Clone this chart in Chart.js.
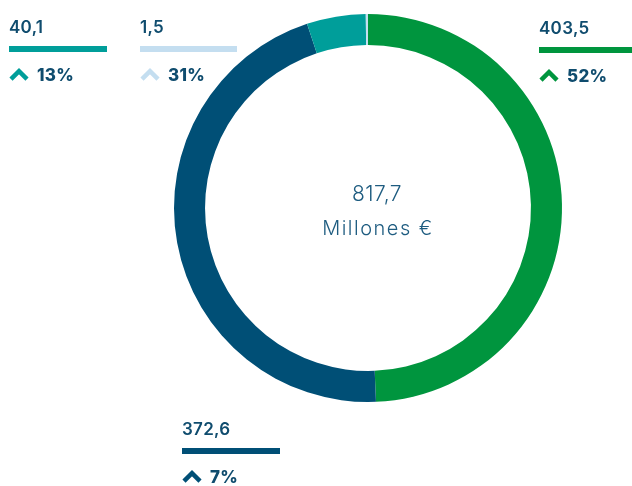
<!DOCTYPE html>
<html>
<head>
<meta charset="utf-8">
<script src="https://cdn.jsdelivr.net/npm/chart.js@4/dist/chart.umd.min.js"></script>
<style>
  html, body { margin: 0; padding: 0; background: #fff; }
  #wrap { width: 632px; height: 486px; position: relative; }
</style>
</head>
<body>
<div id="wrap"><canvas id="donut" width="632" height="486"></canvas></div>
<script>
// values in millones €
const categories = ['Segmento A', 'Segmento B', 'Segmento C', 'Segmento D'];
const values = [403.5, 372.6, 40.1, 1.5];
const valueLabels = ['403,5', '372,6', '40,1', '1,5'];
const changeLabels = ['52%', '7%', '13%', '31%'];
const colors = ['#00953e', '#004f76', '#009e9a', '#c4def0'];
const totalLabel = '817,7';
const unitLabel = 'Millones €';

// where each callout sits: x, y of value text top, bar width
const callouts = [
    { x: 539, y: 20, w: 93 },
    { x: 182, y: 421, w: 98 },
    { x: 9, y: 19, w: 98 },
    { x: 140, y: 19, w: 97 }
];

const textColor = '#0f4c6e';
const font = 'Inter, "DejaVu Sans", sans-serif';

function drawChevron(ctx, x, y, color) {
    // caret pointing up, about 20 x 13 px
    ctx.save();
    ctx.strokeStyle = color;
    ctx.lineWidth = 4.5;
    ctx.lineJoin = 'miter';
    ctx.lineCap = 'butt';
    ctx.beginPath();
    ctx.moveTo(x + 2, y + 11.2);
    ctx.lineTo(x + 10, y + 3.2);
    ctx.lineTo(x + 18, y + 11.2);
    ctx.stroke();
    ctx.restore();
}

const calloutPlugin = {
    id: 'callouts',
    afterDraw(chart) {
        let ctx = chart.ctx;
        ctx.save();
        ctx.textBaseline = 'top';
        ctx.textAlign = 'left';
        callouts.forEach((c, i) => {
            ctx.fillStyle = textColor;
            ctx.font = `600 17px ${font}`;
            ctx.letterSpacing = '0.3px';
            ctx.fillText(valueLabels[i], c.x, c.y);
            ctx.fillStyle = colors[i];
            ctx.fillRect(c.x, c.y + 27, c.w, 6);
            drawChevron(ctx, c.x, c.y + 49, colors[i]);
            ctx.fillStyle = textColor;
            ctx.font = `800 17px ${font}`;
            ctx.fillText(changeLabels[i], c.x + 28, c.y + 48);
        });

        // centre text
        ctx.fillStyle = '#1e5c80';
        ctx.textAlign = 'center';
        ctx.textBaseline = 'alphabetic';
        ctx.font = `300 21px ${font}`;
        ctx.letterSpacing = '0.5px';
        ctx.fillText(totalLabel, 377, 201);
        ctx.font = `300 20px ${font}`;
        ctx.letterSpacing = '1.5px';
        ctx.fillText(unitLabel, 378, 235);
        ctx.restore();
    }
};

let canvas = document.getElementById('donut').getContext('2d');
let donutChart = new Chart(canvas, {
    type: 'doughnut',
    data: {
        labels: categories,
        datasets: [{
            data: values,
            backgroundColor: colors,
            borderWidth: 0
        }]
    },
    options: {
        responsive: false,
        animation: false,
        cutout: '84%',
        layout: {
            padding: { left: 174, right: 70, top: 14, bottom: 84 }
        },
        plugins: {
            legend: { display: false },
            tooltip: { enabled: false }
        }
    },
    plugins: [calloutPlugin]
});
</script>
</body>
</html>
